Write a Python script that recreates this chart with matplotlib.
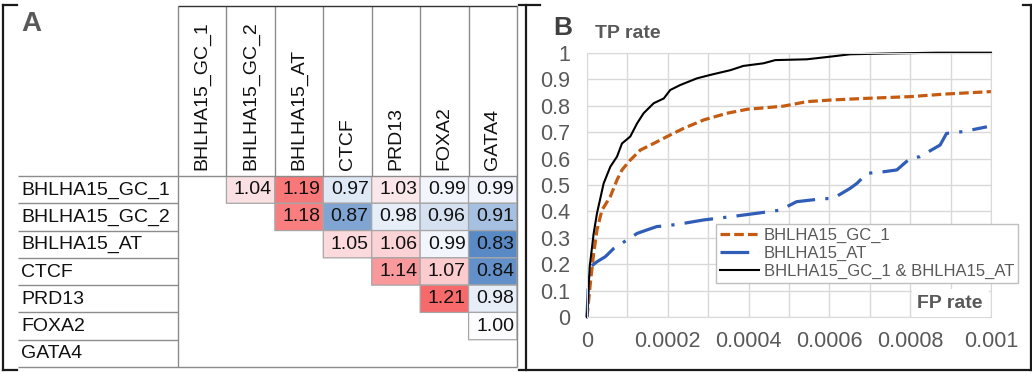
import numpy as np
import matplotlib
matplotlib.use("Agg")
import matplotlib.pyplot as plt
from matplotlib.colors import LinearSegmentedColormap, TwoSlopeNorm
from matplotlib.lines import Line2D

plt.rcParams["font.family"] = ["Liberation Sans", "DejaVu Sans"]

# ---- panel A: pairwise ratio matrix ----
TF_NAMES = ["BHLHA15_GC_1", "BHLHA15_GC_2", "BHLHA15_AT", "CTCF", "PRD13", "FOXA2", "GATA4"]
nan = np.nan
RATIO = np.array([
    [nan, 1.04, 1.19, 0.97, 1.03, 0.99, 0.99],
    [nan, nan, 1.18, 0.87, 0.98, 0.96, 0.91],
    [nan, nan, nan, 1.05, 1.06, 0.99, 0.83],
    [nan, nan, nan, nan, 1.14, 1.07, 0.84],
    [nan, nan, nan, nan, nan, 1.21, 0.98],
    [nan, nan, nan, nan, nan, nan, 1.00],
    [nan, nan, nan, nan, nan, nan, nan],
])

# ---- panel B: ROC curves ----
FP_GC1 = [0, 0.0000082, 0.0000165, 0.0000247, 0.000037, 0.0000577, 0.0000742, 0.0000866,
          0.000107, 0.000132, 0.000165, 0.000198, 0.000239, 0.000289, 0.000346, 0.000396,
          0.000486, 0.000544, 0.000602, 0.000684, 0.0008, 0.00089, 0.001]
TP_GC1 = [0, 0.128, 0.242, 0.33, 0.405, 0.456, 0.519, 0.557,
          0.594, 0.632, 0.657, 0.683, 0.714, 0.746, 0.771, 0.786,
          0.798, 0.815, 0.821, 0.827, 0.834, 0.844, 0.853]

FP_AT = [0, 0.000004, 0.0000082, 0.0000247, 0.0000453, 0.000066, 0.0000989, 0.000124,
         0.000148, 0.000173, 0.000198, 0.000239, 0.000289, 0.000355, 0.00042, 0.000478,
         0.000519, 0.000577, 0.00061, 0.000651, 0.000668, 0.000693, 0.000734, 0.000767,
         0.0008, 0.000824, 0.000874, 0.00089, 0.000932, 0.00099]
TP_AT = [0, 0.154, 0.19, 0.21, 0.229, 0.26, 0.292, 0.317,
         0.33, 0.343, 0.346, 0.355, 0.368, 0.38, 0.393, 0.405,
         0.437, 0.447, 0.45, 0.487, 0.506, 0.544, 0.55, 0.557,
         0.601, 0.607, 0.651, 0.695, 0.702, 0.72]

FP_BOTH = [0, 0.0000066, 0.0000165, 0.0000247, 0.0000412, 0.0000577, 0.0000742, 0.0000866,
           0.000107, 0.000124, 0.00014, 0.000165, 0.00019, 0.000206, 0.000231, 0.000272,
           0.000305, 0.000355, 0.000387, 0.000437, 0.000466, 0.000544, 0.000602, 0.000651,
           0.000742, 0.000866, 0.001]
TP_BOTH = [0, 0.19, 0.317, 0.393, 0.506, 0.569, 0.607, 0.657,
           0.683, 0.733, 0.771, 0.809, 0.827, 0.859, 0.878, 0.903,
           0.916, 0.934, 0.95, 0.96, 0.972, 0.975, 0.985, 0.994,
           0.997, 1.0, 1.0]

X_TICKS = [0, 0.0002, 0.0004, 0.0006, 0.0008, 0.001]
X_LABELS = ["0", "0.0002", "0.0004", "0.0006", "0.0008", "0.001"]
Y_TICKS = [i / 10 for i in range(11)]
Y_LABELS = ["0", "0.1", "0.2", "0.3", "0.4", "0.5", "0.6", "0.7", "0.8", "0.9", "1"]

W, H = 1032, 372
fig = plt.figure(figsize=(W / 100, H / 100), dpi=100)


def fx(px):
    return px / W


def fy(py):
    return 1 - py / H


# ============================================================
# Panel A
# ============================================================
CL, CR, RT, RB = 178, 517, 176, 367   # cell block edges in pixels
axA = fig.add_axes([fx(CL), fy(RB), fx(CR - CL), (RB - RT) / H])
axA.set_xlim(0, 7)
axA.set_ylim(7, 0)
axA.axis("off")
cw = (CR - CL) / 7
rh = (RB - RT) / 7

cmap = LinearSegmentedColormap.from_list("xl", ["#5A8AC6", "#FCFCFF", "#F8696B"])
norm = TwoSlopeNorm(vmin=np.nanmin(RATIO), vcenter=1.0, vmax=np.nanmax(RATIO))
# pcolor drops masked cells entirely, so the empty half gets no edges
axA.pcolor(np.arange(8), np.arange(8), np.ma.masked_invalid(RATIO), cmap=cmap, norm=norm,
           edgecolors="#a6a6a6", linewidth=0.9)
for i in range(7):
    for j in range(7):
        if not np.isnan(RATIO[i, j]):
            axA.text(j + 1 - 3 / cw, i + 0.5, f"{RATIO[i, j]:.2f}", ha="right", va="center",
                     fontsize=14, color="#111111")

lab_x = (21 - CL) / cw
line_x0 = (18 - CL) / cw
top_y = (5.5 - RT) / rh
for i, name in enumerate(TF_NAMES):
    axA.text(lab_x, i + 0.52, name, ha="left", va="center", fontsize=14, color="#111111",
             clip_on=False)
    axA.text(i + 0.5, (170 - RT) / rh, name, rotation=90, ha="center", va="bottom",
             fontsize=14, color="#111111", clip_on=False)

grid_kw = dict(color="#8c8c8c", linewidth=1.0, clip_on=False)
axA.hlines(np.arange(1, 7), line_x0, 0, **grid_kw)
axA.hlines([0, 7], line_x0, 7, **grid_kw)
axA.vlines(np.arange(1, 7), top_y, 0, **grid_kw)
axA.vlines([0, 7], top_y, 7, **grid_kw)
axA.hlines(top_y, 0, 7, color="#333333", linewidth=1.0, clip_on=False)

fig.text(fx(21), fy(24), "A", fontsize=20, fontweight="bold", color="#595959",
         ha="left", va="center")

# ============================================================
# Panel B
# ============================================================
AL, AR, AT_, AB = 587, 991, 52.7, 317.3
axB = fig.add_axes([fx(AL), fy(AB), fx(AR - AL), (AB - AT_) / H])
axB.plot(FP_GC1, TP_GC1, color="#C55A11", lw=2.3, linestyle=(0, (3, 1.3)),
         label="BHLHA15_GC_1", clip_on=False)
axB.plot(FP_AT, TP_AT, color="#2F5DB8", lw=2.3, linestyle=(0, (9, 3.2, 1, 3.2)),
         label="BHLHA15_AT", clip_on=False)
axB.plot(FP_BOTH, TP_BOTH, color="black", lw=1.5, label="BHLHA15_GC_1 & BHLHA15_AT",
         clip_on=False)
axB.set_xlim(0, 0.001)
axB.set_ylim(0, 1)
axB.set_xticks(X_TICKS)
axB.set_xticklabels(X_LABELS)
axB.set_xticks(np.arange(0.0001, 0.001, 0.0002), minor=True)
axB.set_yticks(Y_TICKS)
axB.set_yticklabels(Y_LABELS)
axB.grid(True, which="both", color="#d9d9d9", lw=1.0)
axB.set_axisbelow(True)
axB.tick_params(which="both", length=0, colors="#595959", labelsize=15.5)
axB.tick_params(axis="x", pad=10)
axB.tick_params(axis="y", pad=12)
for s in axB.spines.values():
    s.set_color("#d9d9d9")

axB.text((595 - AL) / (AR - AL), 1 + (AT_ - 33) / (AB - AT_), "TP rate", transform=axB.transAxes,
         fontsize=14, fontweight="bold", color="#595959", ha="left", va="center")
axB.text((983 - AL) / (AR - AL), (AB - 303) / (AB - AT_), "FP rate", transform=axB.transAxes,
         fontsize=14, fontweight="bold", color="#595959", ha="right", va="center",
         bbox=dict(facecolor="white", edgecolor="none", pad=4))

leg = axB.legend(loc="upper left", bbox_to_anchor=(fx(716), fy(224)), bbox_transform=fig.transFigure,
                 fontsize=12, frameon=True, fancybox=False, edgecolor="#bfbfbf", framealpha=1,
                 handlelength=2.3, handletextpad=0.3, labelspacing=0.15, borderpad=0.25,
                 borderaxespad=0)
for t in leg.get_texts():
    t.set_color("#595959")
leg.get_frame().set_linewidth(1.0)

fig.text(fx(553), fy(28), "B", fontsize=19, fontweight="bold", color="#404040",
         ha="left", va="center")

# ---- panel frames ----
frame_kw = dict(color="#1a1a1a", linewidth=1.6, transform=fig.transFigure)
fig.add_artist(Line2D([fx(3), fx(3)], [fy(5), fy(370)], **frame_kw))
fig.add_artist(Line2D([fx(3), fx(17)], [fy(5), fy(5)], **frame_kw))
fig.add_artist(Line2D([fx(3), fx(17)], [fy(369.5), fy(369.5)], **frame_kw))
fig.add_artist(Line2D([fx(526), fx(526)], [fy(5), fy(370)], **frame_kw))
fig.add_artist(Line2D([fx(519), fx(540)], [fy(5), fy(5)], **frame_kw))
fig.add_artist(Line2D([fx(519), fx(1031)], [fy(369.5), fy(369.5)], **frame_kw))
fig.add_artist(Line2D([fx(1030.5), fx(1030.5)], [fy(5), fy(370)], **frame_kw))
fig.add_artist(Line2D([fx(1023), fx(1031)], [fy(5), fy(5)], **frame_kw))

fig.savefig("out.png", dpi=100)
